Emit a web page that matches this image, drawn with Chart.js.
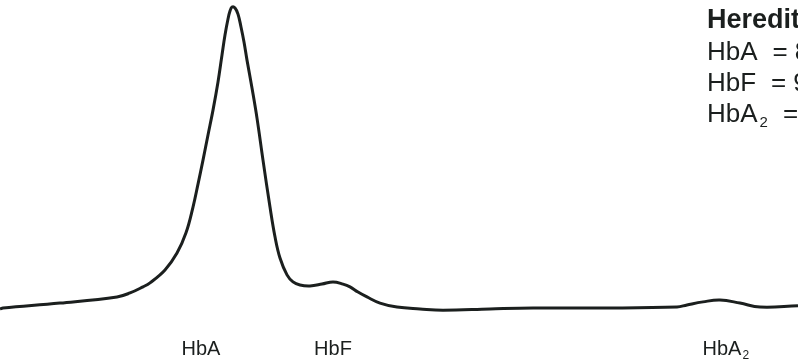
<!DOCTYPE html>
<html>
<head>
<meta charset="utf-8">
<script src="https://cdn.jsdelivr.net/npm/chart.js@4/dist/chart.umd.min.js"></script>
<style>
    html, body { margin: 0; padding: 0; background: #fff; }
    #wrap { width: 798px; height: 362px; }
</style>
</head>
<body>
<div id="wrap"><canvas id="trace" width="798" height="362"></canvas></div>
<script>
// electrophoresis trace (x = migration, y = absorbance)
const migration = [0, 3, 60, 117, 130, 143, 150, 165, 177, 186, 193, 198, 203, 208, 213, 218, 222, 225, 228, 230, 232,
    235, 238, 241, 244, 247, 252, 257, 263, 270, 275, 280, 287, 293, 300, 310, 322, 333, 343, 350,
    358, 367, 380, 397, 420, 443, 490, 533, 600, 677, 687, 703, 720, 740, 760, 798];
const absorbance = [-0.7, -0.4, 1.2, 3.2, 4.5, 6.5, 7.8, 12.0, 17.5, 24.1, 32.5, 40.0, 47.8, 56.0, 64.1, 73.3, 82.1, 88.6, 93.8, 96.4, 97.7,
    97.4, 95.4, 91.2, 86.3, 80.4, 71.3, 61.5, 47.8, 32.5, 22.8, 15.9, 10.4, 8.1, 7.1, 6.8, 7.4, 8.1, 7.4, 6.5,
    4.8, 3.2, 1.2, -0.1, -0.7, -1.1, -0.7, -0.4, -0.4, -0.1, 0.6, 1.6, 2.2, 1.2, -0.1, 0.3];

// fraction labels under the trace
const fractionNames = ['HbA', 'HbF', 'HbA'];
const fractionSubs = ['', '', '2'];
const fractionPos = [201, 333, 722];

// legend text, top right (runs off the edge of the picture)
const infoTitle = 'Hereditary persistence of fetal hemoglobin';
const infoLines = [['HbA', ''], ['HbF', ''], ['HbA', '2']];
const infoValues = ['8', '9', ''];

const ink = '#1b1f1e';
const fontFamily = '"Liberation Sans", Arial, sans-serif';

const textPlugin = {
    id: 'traceText',
    afterDraw(chart) {
        const ctx = chart.ctx;
        const xs = chart.scales.x;
        const area = chart.chartArea;
        ctx.save();
        ctx.fillStyle = ink;
        ctx.textBaseline = 'alphabetic';

        // labels under the peaks
        ctx.font = '20px ' + fontFamily;
        for (let i = 0; i < fractionNames.length; i++) {
            const main = fractionNames[i];
            const sub = fractionSubs[i];
            const w = ctx.measureText(main).width;
            const cx = xs.getPixelForValue(fractionPos[i]);
            const x0 = cx - w / 2;
            const base = area.bottom - 7;
            ctx.fillText(main, x0, base);
            if (sub) {
                ctx.font = '12px ' + fontFamily;
                ctx.fillText(sub, x0 + w + 1, base + 4);
                ctx.font = '20px ' + fontFamily;
            }
        }

        // info block
        const left = 707;
        ctx.font = 'bold 27px ' + fontFamily;
        ctx.fillText(infoTitle, left, 28);
        for (let i = 0; i < infoLines.length; i++) {
            const base = 60 + i * 31;
            let x = left;
            const main = infoLines[i][0];
            const sub = infoLines[i][1];
            ctx.font = '26px ' + fontFamily;
            ctx.fillText(main, x, base);
            x += ctx.measureText(main).width;
            if (sub) {
                ctx.font = '15px ' + fontFamily;
                ctx.fillText(sub, x + 2, base + 5);
                x += ctx.measureText(sub).width + 2;
                ctx.font = '26px ' + fontFamily;
            }
            x += 15;
            ctx.fillText('=', x, base);
            x += ctx.measureText('=').width + 7;
            ctx.fillText(infoValues[i], x, base);
        }
        ctx.restore();
    }
};

window.onload = () => {
    const ctx = document.getElementById('trace').getContext('2d');
    const points = migration.map((m, i) => ({ x: m, y: absorbance[i] }));

    new Chart(ctx, {
        type: 'line',
        data: {
            datasets: [{
                data: points,
                borderColor: ink,
                borderWidth: 3,
                pointRadius: 0,
                fill: false,
                tension: 0.4
            }]
        },
        options: {
            responsive: false,
            animation: false,
            layout: { padding: 0 },
            plugins: {
                legend: { display: false },
                tooltip: { enabled: false }
            },
            scales: {
                x: {
                    type: 'linear',
                    min: 0,
                    max: 798,
                    display: false
                },
                y: {
                    min: -18,
                    max: 100,
                    display: false
                }
            }
        },
        plugins: [textPlugin]
    });
};
</script>
</body>
</html>
